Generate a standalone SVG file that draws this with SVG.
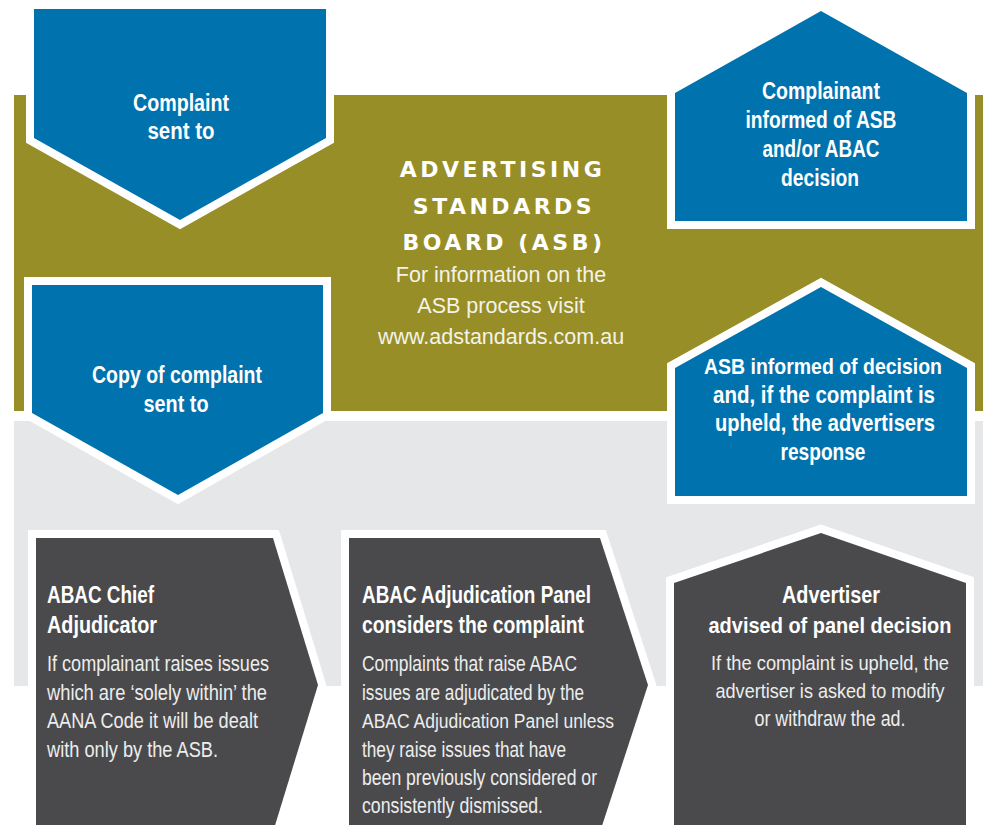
<svg xmlns="http://www.w3.org/2000/svg" width="983" height="825" viewBox="0 0 983 825">
<style>
.band-olive{fill:#978E27}
.band-gray{fill:#E6E7E9}
.blue{fill:#0072AE;stroke:#FFFFFF;stroke-width:16;paint-order:stroke;stroke-linejoin:miter;stroke-miterlimit:10}
.dark{fill:#4A4A4C;stroke:#FFFFFF;stroke-width:16;paint-order:stroke;stroke-linejoin:miter;stroke-miterlimit:10}
.bt{font-family:"Liberation Sans",Arial,sans-serif;font-weight:bold;font-size:23.5px;fill:#FFFFFF;text-anchor:middle}
.hd{font-family:"Liberation Sans",Arial,sans-serif;font-weight:bold;font-size:23px;fill:#FFFFFF}
.bd{font-family:"Liberation Sans",Arial,sans-serif;font-size:22px;fill:#EDEDED}
.title{font-family:"DejaVu Sans",Verdana,sans-serif;font-weight:bold;font-size:22px;fill:#FFFFFF;text-anchor:middle;letter-spacing:3.5px}
.info{font-family:"Liberation Sans",Arial,sans-serif;font-size:21.5px;fill:#F4F3EA;text-anchor:middle}
.mid{text-anchor:middle}
</style>
<rect x="0" y="0" width="983" height="825" fill="#FFFFFF"/>
<g id="bands">
<rect class="band-olive" x="14" y="95" width="969" height="316"/>
<rect class="band-gray" x="14" y="421" width="969" height="265"/>
</g>
<g id="asb-title">
<text class="title" x="502.5" y="177">ADVERTISING</text>
<text class="title" x="504" y="214">STANDARDS</text>
<text class="title" x="504" y="250">BOARD (ASB)</text>
<text class="info" x="501" y="282">For information on the</text>
<text class="info" x="501" y="313">ASB process visit</text>
<text class="info" x="501" y="344">www.adstandards.com.au</text>
</g>
<g id="connectors"></g>
<g id="node-complaint-sent">
<polygon class="blue" points="34,9 326,9 326,138 180,220 34,138"/>
<text class="bt" x="181" y="111" textLength="96" lengthAdjust="spacingAndGlyphs">Complaint</text>
<text class="bt" x="181" y="139" textLength="67" lengthAdjust="spacingAndGlyphs">sent to</text>
</g>
<g id="node-copy-sent">
<polygon class="blue" points="32,285 323,285 323,413 178,495 32,413"/>
<text class="bt" x="177" y="383" textLength="170" lengthAdjust="spacingAndGlyphs">Copy of complaint</text>
<text class="bt" x="176" y="412" textLength="65" lengthAdjust="spacingAndGlyphs">sent to</text>
</g>
<g id="node-complainant-informed">
<polygon class="blue" points="675,93 821,11 967,93 967,221 675,221"/>
<text class="bt" x="821" y="99" textLength="118" lengthAdjust="spacingAndGlyphs">Complainant</text>
<text class="bt" x="821" y="128" textLength="151" lengthAdjust="spacingAndGlyphs">informed of ASB</text>
<text class="bt" x="821" y="157" textLength="117" lengthAdjust="spacingAndGlyphs">and/or ABAC</text>
<text class="bt" x="820" y="186" textLength="78" lengthAdjust="spacingAndGlyphs">decision</text>
</g>
<g id="node-asb-informed">
<polygon class="blue" points="675,368 821,287 967,368 967,496 675,496"/>
<text class="bt" x="823" y="374" style="font-size:22.5px" textLength="238" lengthAdjust="spacingAndGlyphs">ASB informed of decision</text>
<text class="bt" x="824" y="403" textLength="222" lengthAdjust="spacingAndGlyphs">and, if the complaint is</text>
<text class="bt" x="825" y="431" textLength="220" lengthAdjust="spacingAndGlyphs">upheld, the advertisers</text>
<text class="bt" x="823" y="460" textLength="85" lengthAdjust="spacingAndGlyphs">response</text>
</g>
<g id="node-chief-adjudicator">
<polygon class="dark" points="36,538 273,538 318,685 273,832 36,832"/>
<text class="hd" x="47" y="603" textLength="107" lengthAdjust="spacingAndGlyphs">ABAC Chief</text>
<text class="hd" x="47" y="633" textLength="110" lengthAdjust="spacingAndGlyphs">Adjudicator</text>
<text class="bd" x="47" y="671" textLength="222" lengthAdjust="spacingAndGlyphs">If complainant raises issues</text>
<text class="bd" x="47" y="700" textLength="220" lengthAdjust="spacingAndGlyphs">which are ‘solely within’ the</text>
<text class="bd" x="47" y="728" textLength="211" lengthAdjust="spacingAndGlyphs">AANA Code it will be dealt</text>
<text class="bd" x="47" y="757" textLength="171" lengthAdjust="spacingAndGlyphs">with only by the ASB.</text>
</g>
<g id="node-adjudication-panel">
<polygon class="dark" points="349,538 600,538 648,685 600,832 349,832"/>
<text class="hd" x="362" y="603" textLength="229" lengthAdjust="spacingAndGlyphs">ABAC Adjudication Panel</text>
<text class="hd" x="362" y="633" textLength="222" lengthAdjust="spacingAndGlyphs">considers the complaint</text>
<text class="bd" x="362" y="671" textLength="215" lengthAdjust="spacingAndGlyphs">Complaints that raise ABAC</text>
<text class="bd" x="362" y="700" textLength="222" lengthAdjust="spacingAndGlyphs">issues are adjudicated by the</text>
<text class="bd" x="362" y="728" style="font-size:20px" textLength="252" lengthAdjust="spacingAndGlyphs">ABAC Adjudication Panel unless</text>
<text class="bd" x="362" y="757" textLength="204" lengthAdjust="spacingAndGlyphs">they raise issues that have</text>
<text class="bd" x="362" y="785" textLength="235" lengthAdjust="spacingAndGlyphs">been previously considered or</text>
<text class="bd" x="362" y="813" textLength="181" lengthAdjust="spacingAndGlyphs">consistently dismissed.</text>
</g>
<g id="node-advertiser-advised">
<polygon class="dark" points="674,583 821,533 966,583 966,840 674,840"/>
<text class="hd mid" x="831" y="603" textLength="98" lengthAdjust="spacingAndGlyphs">Advertiser</text>
<text class="hd mid" x="830" y="633" style="font-size:22px" textLength="243" lengthAdjust="spacingAndGlyphs">advised of panel decision</text>
<text class="bd mid" x="830" y="670" style="font-size:20.5px" textLength="238" lengthAdjust="spacingAndGlyphs">If the complaint is upheld, the</text>
<text class="bd mid" x="830" y="698" style="font-size:21px" textLength="229" lengthAdjust="spacingAndGlyphs">advertiser is asked to modify</text>
<text class="bd mid" x="830" y="726" textLength="151" lengthAdjust="spacingAndGlyphs">or withdraw the ad.</text>
</g>
</svg>
